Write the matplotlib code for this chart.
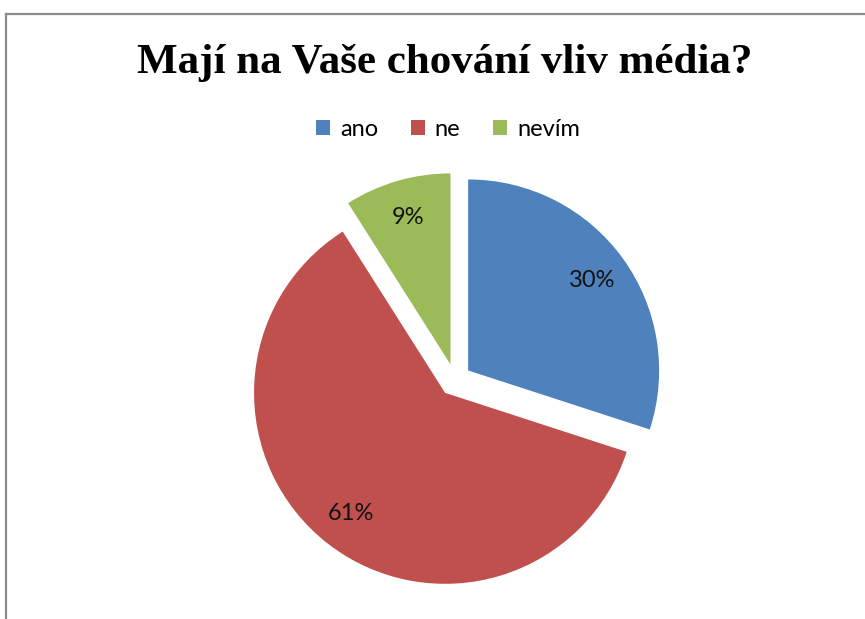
import matplotlib
matplotlib.use("Agg")
import matplotlib.pyplot as plt
from matplotlib.lines import Line2D
from matplotlib.patches import Patch

title = "Mají na Vaše chování vliv média?"
categories = ["ano", "ne", "nevím"]
values = [30, 61, 9]
colors = ["#4F81BD", "#C0504D", "#9BBB59"]

W, H = 865, 619
fig = plt.figure(figsize=(W / 100, H / 100), dpi=100)
fig.patch.set_facecolor("white")

# outer chart frame (only top and left edges visible)
fig.add_artist(Line2D([6 / W, 6 / W], [0, 1 - 14 / H], transform=fig.transFigure,
                      color="#8c8c8c", lw=1.6))
fig.add_artist(Line2D([6 / W, 1], [1 - 14 / H, 1 - 14 / H], transform=fig.transFigure,
                      color="#8c8c8c", lw=1.6))

ax = fig.add_axes([0, 0, 1, 1])
cx, cy, R = 455, 380, 191
wedges, texts, autotexts = ax.pie(
    values, colors=colors, startangle=90, counterclock=False,
    explode=[0.085] * len(values), radius=1,
    autopct=lambda p: f"{p:.0f}%", pctdistance=0.8,
    wedgeprops=dict(edgecolor="none"),
    textprops=dict(fontsize=17, family=["Lato", "DejaVu Sans"], color="#111111"))
ax.set_aspect("equal")
ax.set_xlim(-cx / R, (W - cx) / R)
ax.set_ylim(-(H - cy) / R, cy / R)
ax.axis("off")

fig.text(445 / W, 1 - 63 / H, title, ha="center", va="center",
         fontsize=31, fontweight="bold", family=["Liberation Serif", "DejaVu Serif"])

handles = [Patch(facecolor=c, edgecolor="none") for c in colors]
fig.legend(handles, categories, loc="center", bbox_to_anchor=(448 / W, 1 - 129 / H),
           ncol=3, frameon=False, handlelength=0.6, handleheight=0.6,
           handletextpad=0.4, columnspacing=1.4, borderpad=0,
           prop=dict(family=["Lato", "DejaVu Sans"], size=17))

fig.savefig("out.png", dpi=100)
